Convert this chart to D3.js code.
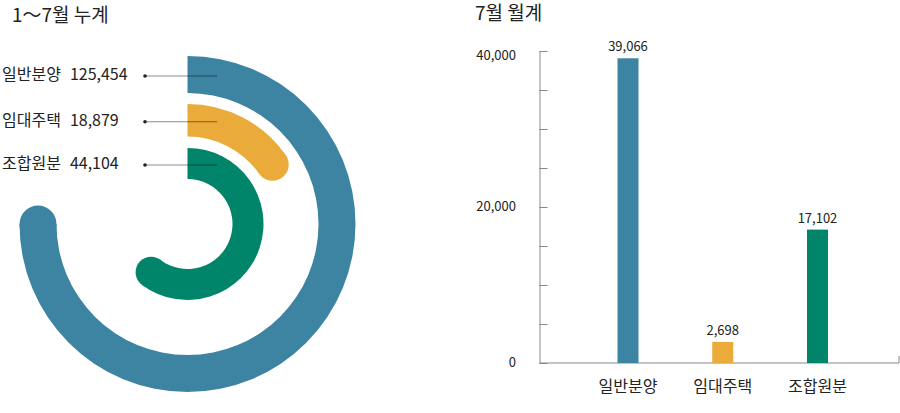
<!DOCTYPE html>
<html>
<head>
<meta charset="utf-8">
<script src="https://cdn.jsdelivr.net/npm/d3@7"></script>
<style>
	body { margin: 0; background: #fff; }
	svg { display: block; font-family: "Noto Sans CJK KR", "Noto Sans", sans-serif; }
	text { fill: #222; }
</style>
</head>
<body>
<svg id="chart" width="900" height="413"></svg>
<script>
// data
var categories = ['일반분양', '임대주택', '조합원분'];
var cumulative = [125454, 18879, 44104];   // 1~7월 누계
var monthly = [39066, 2698, 17102];        // 7월 월계
var yTicks = [0, 20000, 40000];
var colors = ['#3d84a2', '#eaab3b', '#00846a'];

var svg = d3.select('#chart');
var fmt = d3.format(',');

//---------- left: ring chart ----------
var cx = 187.5, cy = 224;
var rings = [
	{inner: 131, outer: 168},
	{inner: 87.5, outer: 120},
	{inner: 45, outer: 76}
];

// the rings in the reference are not drawn to one linear scale,
// so the angle scale is piecewise through the sorted values
var sorted = cumulative.slice().sort(d3.ascending);
var angle = d3.scaleLinear()
	.domain([0].concat(sorted))
	.range([0, 55, 217, 270].map(function(d){return d * Math.PI / 180;}));

svg.append('text')
	.attr('x', 12)
	.attr('y', 22)
	.style('font-size', '19px')
	.text('1〜7월 누계');

var ringG = svg.append('g').attr('transform', 'translate(' + cx + ',' + cy + ')');

var arc = d3.arc();

categories.forEach(function(name, i){
	var r = rings[i];
	var a = angle(cumulative[i]);
	var mid = (r.inner + r.outer) / 2;

	ringG.append('path')
		.attr('d', arc({innerRadius: r.inner, outerRadius: r.outer, startAngle: 0, endAngle: a}))
		.attr('fill', colors[i]);

	// rounded end cap
	ringG.append('circle')
		.attr('cx', mid * Math.sin(a))
		.attr('cy', -mid * Math.cos(a))
		.attr('r', (r.outer - r.inner) / 2)
		.attr('fill', colors[i]);

	var ly = cy - mid + 1.5;

	svg.append('line')
		.attr('x1', 145).attr('x2', 217)
		.attr('y1', ly).attr('y2', ly)
		.attr('stroke', '#000')
		.attr('stroke-opacity', 0.45)
		.attr('stroke-width', 1);

	svg.append('circle')
		.attr('cx', 145).attr('cy', ly)
		.attr('r', 1.8)
		.attr('fill', '#222');

	var t = svg.append('text')
		.attr('x', 2)
		.attr('y', ly)
		.attr('dominant-baseline', 'middle')
		.style('font-size', '16px');
	t.append('tspan').text(name);
	t.append('tspan').attr('dx', 9).text(fmt(cumulative[i]));
});

//---------- right: bar chart ----------
var axisX = 539.5, baseY = 363, topY = 51, rightX = 899;

svg.append('text')
	.attr('x', 475)
	.attr('y', 20)
	.style('font-size', '19px')
	.text('7월 월계');

var y = d3.scaleLinear().domain([0, 40000]).range([baseY, topY]);
var x = d3.scalePoint().domain(categories).range([628, 817.5]);
var barW = 21;

// minor ticks every 5,000 pointing inward
var yAxis = d3.axisRight(y)
	.tickValues(d3.range(0, 40001, 5000))
	.tickSize(8)
	.tickSizeOuter(0)
	.tickFormat('');

var yg = svg.append('g')
	.attr('transform', 'translate(' + axisX + ',0)')
	.call(yAxis);
yg.selectAll('path, line').attr('stroke', '#888');

svg.selectAll('text.ytick')
	.data(yTicks)
	.enter().append('text')
	.attr('class', 'ytick')
	.attr('x', 516)
	.attr('y', function(d){return y(d) + (d === 40000 ? 5 : 0);})
	.attr('text-anchor', 'end')
	.attr('dominant-baseline', 'middle')
	.style('font-size', '13px')
	.text(function(d){return fmt(d);});

// baseline with small end tick
svg.append('path')
	.attr('d', 'M' + axisX + ',' + baseY + 'H' + rightX + 'V' + (baseY - 7))
	.attr('fill', 'none')
	.attr('stroke', '#888');

svg.selectAll('rect.bar')
	.data(monthly)
	.enter().append('rect')
	.attr('class', 'bar')
	.attr('x', function(d, i){return x(categories[i]) - barW / 2;})
	.attr('y', function(d){return y(d);})
	.attr('width', barW)
	.attr('height', function(d){return baseY - y(d);})
	.attr('fill', function(d, i){return colors[i];});

svg.selectAll('text.val')
	.data(monthly)
	.enter().append('text')
	.attr('class', 'val')
	.attr('x', function(d, i){return x(categories[i]);})
	.attr('y', function(d){return y(d) - 7;})
	.attr('text-anchor', 'middle')
	.style('font-size', '13px')
	.text(function(d){return fmt(d);});

svg.selectAll('text.cat')
	.data(categories)
	.enter().append('text')
	.attr('class', 'cat')
	.attr('x', function(d){return x(d);})
	.attr('y', 392)
	.attr('text-anchor', 'middle')
	.style('font-size', '16px')
	.text(function(d){return d;});
</script>
</body>
</html>
